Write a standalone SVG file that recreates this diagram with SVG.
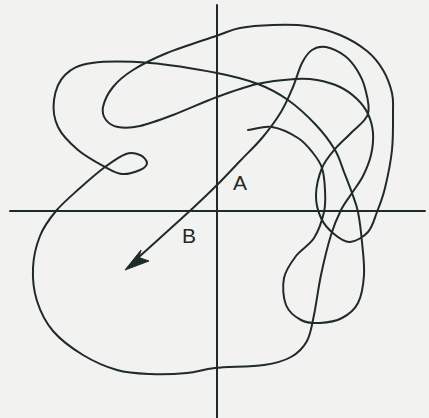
<svg xmlns="http://www.w3.org/2000/svg" width="429" height="418" viewBox="0 0 429 418">
<style>
.ln{fill:none;stroke:#1f2a2b;stroke-width:2;stroke-linecap:round;stroke-linejoin:round}
.lbl{font-family:"Liberation Sans",Arial,sans-serif;font-size:21px;fill:#1f2a2b}
</style>
<rect x="0" y="0" width="429" height="418" fill="#f2f2f0"/>
<g id="axes">
<line class="ln" x1="217" y1="5" x2="217" y2="418"/>
<line class="ln" x1="10" y1="211" x2="425" y2="211"/>
</g>
<g id="curve">
<path class="ln" d="M248,130 C256,129 263.67,125.67 272,127 S291.17,133.67 298,138 S309,148 313,153 S320,161.83 322,168 S324.67,182.67 325,190 S325.83,204 324,212 S318.67,230.67 314,238 S301,249.33 296,256 S285.67,269.83 284,278 S283.17,298 286,305 S295.33,317 301,320 S313.17,323.33 320,323 S335.67,321.33 342,318 S354.33,310.17 358,303 S363.33,285.17 364,275 S363,252.5 362,242 S359.67,220.17 358,212 S354.33,199.67 352,193 S346.83,179.17 344,172 S339.67,157.83 335,150 S323.83,133.33 316,125 S297.67,106.83 288,100 S269.83,88.5 258,84 S235,76.5 217,73 S170.83,64.67 150,63 S106.17,61 92,63 S71.33,68.83 65,75 S55.17,91.33 54,100 S54,118.67 58,127 S70.17,143.33 78,150 S97.67,163 105,167 S116.17,173.5 122,174 S135.83,171.83 140,170 S147,165.5 147,163 S143.5,156.5 140,155 S131.83,152 126,154 S112.67,161.33 105,167 S88.17,180.67 80,188 S62.67,203 56,211 S43.83,226.5 40,236 S33.5,257.17 33,268 S33.67,290.5 37,301 S45.33,322 53,331 S72.33,348.5 83,355 S105.83,366.83 117,370 S138.33,373.5 150,374 S176.17,374 187,373 S202.17,369.33 215,368 S251.33,366.83 264,365 S283.83,361 291,357 S303.17,348 307,341 S311.67,326 314,315 S318.17,288.33 321,275 S327.67,245.83 331,235 S337.5,217 341,210 S348.33,198.67 352,193 S359.83,182.33 363,176 S369.33,162.17 371,155 S373.5,139.83 373,133 S370.67,119.67 368,114 S361.67,103.5 357,99 S346.67,90.17 340,87 S324.5,81.33 317,80 S305,78.33 295,79 S270,81 257,84 S231,91.83 217,97 S185.83,110.17 173,115 S149.17,124 140,126 S123.67,128 118,127 S108.5,123.33 106,120 S101.83,112.5 103,107 S108,93.17 113,87 S124,75.67 133,70 S153.17,58.67 167,53 S203.83,40.17 216,36 S230.5,29.83 240,28 S261.83,25.33 273,25 S295.83,24.33 307,26 S330,30.83 340,35 S359.83,45.17 367,51 S378.83,63 383,70 S390.33,86 392,93 S393,102.5 393,112 S393.33,137.33 392,150 S387.5,177.67 385,188 S379.83,204.67 377,212 S372.5,227 368,232 S355.67,241.67 350,242 S338.83,238 334,234 S324,224.5 321,218 S315.83,203.33 316,195 S318.83,175.67 322,168 S330.17,154.83 335,149 S345.5,138.83 351,133 S365.67,121.5 368,114 S366.83,95.33 365,88 S360.33,75.33 357,70 S350.17,59.83 345,56 S331.5,48 326,47 S316,47.33 312,50 S305.17,56.83 302,63 S296.5,78.83 293,87 S286.17,103.5 281,112 S268.83,129.83 262,138 S247.33,153.33 240,161 S225.83,176.17 218,184 S202.67,199 193,208 S170.83,228.17 160,238 S138.67,257.33 132,263"/>
<path d="M125,270 L141,250 L139,257.5 L149,261 Z" fill="#1f2a2b" stroke="#1f2a2b" stroke-width="1" stroke-linejoin="round"/>
</g>
<g id="labels">
<text class="lbl" x="233" y="190">A</text>
<text class="lbl" x="182" y="243">B</text>
</g>
</svg>
